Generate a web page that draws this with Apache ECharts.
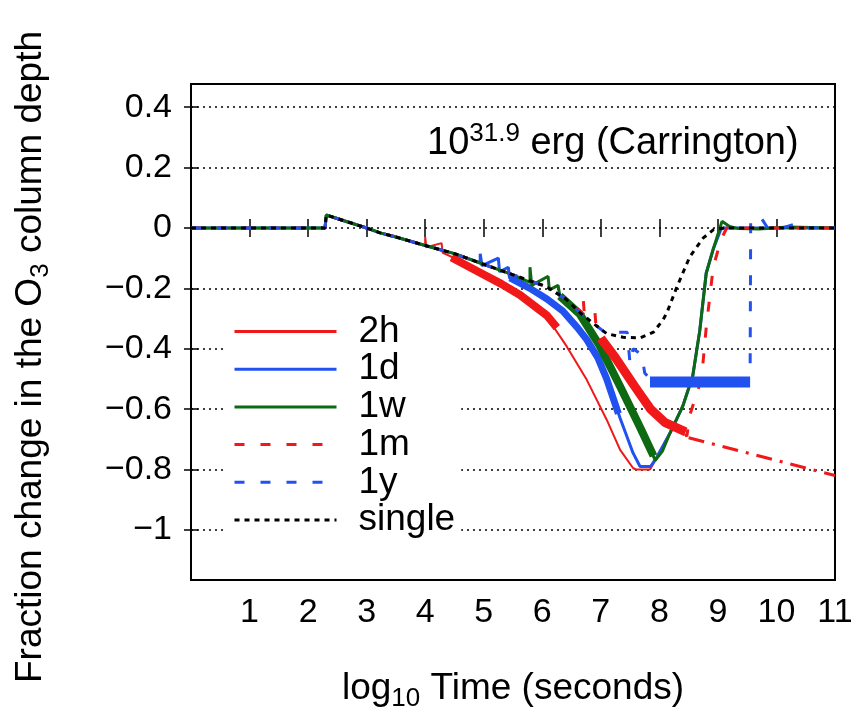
<!DOCTYPE html>
<html>
<head>
<meta charset="utf-8">
<script src="https://cdn.jsdelivr.net/npm/echarts@6/dist/echarts.min.js"></script>
<style>
html,body{margin:0;padding:0;background:#fff;}
#chart{width:851px;height:709px;}
</style>
</head>
<body>
<div id="chart"></div>
<script>
// ---------- data ----------
const legendNames = ['2h', '1d', '1w', '1m', '1y', 'single'];
const xTicks = [0, 1, 2, 3, 4, 5, 6, 7, 8, 9, 10, 11];
const yTicks = [-1, -0.8, -0.6, -0.4, -0.2, 0, 0.2, 0.4];

// shared early part (all runs identical before the repeated flares)
const early = [[0, 0], [2.29, 0], [2.31, 0.043], [2.6, 0.025], [3.0, 0.0], [3.23, -0.016], [3.5, -0.03], [4.0, -0.058]];

const single = [[4.5, -0.085], [4.94, -0.116], [5.5, -0.155], [6.08, -0.195], [6.4, -0.235], [6.64, -0.28], [6.9, -0.32], [7.1, -0.35], [7.38, -0.362], [7.67, -0.364], [7.9, -0.345], [8.06, -0.305], [8.13, -0.28], [8.3, -0.195], [8.52, -0.095], [8.75, -0.033], [8.92, -0.006], [9.1, 0], [11, 0]];

const run2h = [[4.0, -0.03], [4.02, -0.064], [4.28, -0.05], [4.3, -0.082], [4.5, -0.1], [4.94, -0.148], [5.3, -0.185], [5.62, -0.222], [6.08, -0.295], [6.42, -0.393], [6.76, -0.503], [7.1, -0.635], [7.33, -0.735], [7.55, -0.795], [7.6, -0.8], [7.84, -0.8], [7.96, -0.76], [8.18, -0.68], [8.4, -0.59], [8.57, -0.49], [8.69, -0.34], [8.8, -0.15], [8.92, -0.07], [9.05, 0], [11, 0]];
const band2h = [[4.45, -0.098], [4.94, -0.148], [5.3, -0.185], [5.62, -0.222], [6.08, -0.29], [6.25, -0.33]];

const run1d = [[4.5, -0.085], [4.94, -0.116], [4.94, -0.085], [4.97, -0.125], [5.25, -0.1], [5.27, -0.145], [5.42, -0.13], [5.44, -0.165], [5.79, -0.2], [6.08, -0.235], [6.35, -0.275], [6.6, -0.33], [6.76, -0.37], [6.95, -0.43], [7.1, -0.5], [7.33, -0.63], [7.55, -0.745], [7.67, -0.79], [7.85, -0.79], [7.96, -0.758], [8.18, -0.68], [8.4, -0.59], [8.57, -0.49], [8.69, -0.34], [8.8, -0.15], [8.92, -0.07], [9.05, -0.005], [9.1, 0], [11, 0]];
const band1d = [[5.45, -0.165], [5.79, -0.2], [6.08, -0.235], [6.35, -0.275], [6.6, -0.33], [6.76, -0.37], [6.95, -0.43], [7.1, -0.5], [7.3, -0.615]];

const run1w = [[4.5, -0.085], [4.94, -0.116], [5.5, -0.155], [5.79, -0.18], [5.79, -0.13], [5.82, -0.19], [6.1, -0.16], [6.12, -0.205], [6.27, -0.19], [6.3, -0.225], [6.64, -0.285], [6.98, -0.39], [7.33, -0.525], [7.67, -0.66], [7.93, -0.77], [8.05, -0.74], [8.18, -0.68], [8.4, -0.59], [8.57, -0.49], [8.69, -0.34], [8.8, -0.15], [8.92, -0.07], [9.07, 0.022], [9.2, 0.005], [9.35, -0.002], [9.7, -0.003], [10.2, 0.003], [11, 0]];
const band1w = [[6.3, -0.225], [6.64, -0.285], [6.98, -0.39], [7.33, -0.525], [7.67, -0.66], [7.9, -0.755]];

const run1m = [[4.5, -0.085], [4.94, -0.116], [5.5, -0.155], [6.08, -0.195], [6.4, -0.235], [6.7, -0.285], [6.7, -0.235], [6.72, -0.29], [6.9, -0.28], [6.92, -0.33], [7.0, -0.365], [7.25, -0.43], [7.58, -0.525], [7.85, -0.6], [8.1, -0.645], [8.4, -0.672], [8.47, -0.69], [8.52, -0.62], [8.72, -0.5], [8.8, -0.33], [8.92, -0.13], [9.05, -0.04], [9.15, 0], [11, 0]];
const band1m = [[7.0, -0.365], [7.25, -0.43], [7.58, -0.525], [7.85, -0.6], [8.1, -0.645], [8.45, -0.675]];
const tail1m = [[8.5, -0.695], [11, -0.82]];

const run1y = [[4.5, -0.085], [4.94, -0.116], [5.5, -0.155], [6.08, -0.195], [6.4, -0.235], [6.64, -0.28], [6.9, -0.32], [7.1, -0.35], [7.3, -0.345], [7.45, -0.345], [7.5, -0.45], [7.55, -0.4], [7.7, -0.42], [7.75, -0.48], [7.84, -0.5], [9.55, -0.5], [9.56, 0.03], [9.75, 0.03], [9.85, 0.0], [10.1, 0], [10.3, 0.012], [10.45, 0], [11, 0]];
const band1y = [[7.84, -0.51], [9.55, -0.51]];

// ---------- styling ----------
const FONT = 'Liberation Sans';
const RED = '#f01818', BLUE = '#2152f0', GREEN = '#0d6a12', BLACK = '#000';

function yFmt(v) {
  const r = Math.round(v * 10) / 10;
  if (r === 0) return '0';
  return (r < 0 ? '\u2212' : '') + String(Math.abs(r));
}

function lineSeries(name, data, color, width, type, z) {
  return {
    name: name, type: 'line', data: data, showSymbol: false, symbol: 'none',
    lineStyle: { color: color, width: width, type: type || 'solid' },
    itemStyle: { color: color },
    z: z, animation: false, clip: true
  };
}

const chart = echarts.init(document.getElementById('chart'), null, { renderer: 'canvas' });
const common = early;
const option = {
  backgroundColor: '#fff',
  animation: false,
  textStyle: { fontFamily: FONT, color: '#000' },
  grid: { left: 191, right: 16, top: 84, bottom: 129, show: true, borderColor: '#000', borderWidth: 2, containLabel: false, outerBoundsMode: 'none' },
  title: {
    text: '10{sup|31.9} erg (Carrington)',
    left: 422, top: 116,
    textStyle: {
      fontFamily: FONT, fontSize: 38, fontWeight: 'normal', color: '#000', lineHeight: 46,
      rich: { sup: { fontFamily: FONT, fontSize: 26, color: '#000', verticalAlign: 'top', lineHeight: 26 } }
    }
  },
  legend: {
    data: legendNames,
    orient: 'vertical', left: 227, top: 305,
    padding: [8, 6, 8, 6],
    backgroundColor: '#fff',
    itemWidth: 102, itemHeight: 14, itemGap: 0.7,
    itemStyle: { opacity: 0 },
    lineStyle: { width: 3 },
    textStyle: { fontFamily: FONT, fontSize: 37, color: '#000', padding: [0, 0, 0, 17] },
    z: 10
  },
  xAxis: [{
    type: 'value', min: 0, max: 11, interval: 1, position: 'bottom',
    name: 'log{sub|10} Time (seconds)', nameLocation: 'middle', nameGap: 86,
    nameTextStyle: {
      fontFamily: FONT, fontSize: 37, color: '#000', lineHeight: 46,
      rich: { sub: { fontFamily: FONT, fontSize: 26, color: '#000', verticalAlign: 'bottom', lineHeight: 26 } }
    },
    axisLine: { show: false },
    axisTick: { show: true, inside: true, length: 9, lineStyle: { color: '#000', width: 1.5 } },
    axisLabel: { fontFamily: FONT, fontSize: 34, color: '#000', margin: 16, formatter: function (v) { return v === 0 ? '' : String(v); } },
    splitLine: { show: false }
  }, {
    type: 'value', min: 0, max: 11, interval: 1, position: 'top',
    axisLine: { show: false },
    axisTick: { show: true, inside: true, length: 9, lineStyle: { color: '#000', width: 1.5 } },
    axisLabel: { show: false }, splitLine: { show: false }
  }],
  yAxis: [{
    type: 'value', min: -1.166, max: 0.477, position: 'left',
    axisLine: { show: false },
    axisTick: { show: true, inside: true, length: 7, customValues: yTicks, lineStyle: { color: '#000', width: 1.5 } },
    axisLabel: { fontFamily: FONT, fontSize: 34, color: '#000', margin: 19, customValues: yTicks, formatter: yFmt },
    splitLine: { show: true, lineStyle: { color: '#000', width: 1.5, type: [2, 4] } }
  }, {
    type: 'value', min: -1.166, max: 0.477, position: 'right',
    axisLine: { show: false },
    axisTick: { show: true, inside: true, length: 7, customValues: yTicks, lineStyle: { color: '#000', width: 1.5 } },
    axisLabel: { show: false, customValues: yTicks }, splitLine: { show: false }
  }],
  graphic: [{
    type: 'text', x: 31, y: 357, rotation: Math.PI / 2,
    style: {
      text: 'Fraction change in the O{s|3} column depth',
      fontFamily: FONT, fontSize: 37, fill: '#000', align: 'center', verticalAlign: 'middle', lineHeight: 46,
      rich: { s: { fontFamily: FONT, fontSize: 26, fill: '#000', verticalAlign: 'bottom', lineHeight: 26 } }
    }
  }],
  series: [
    lineSeries('2h', common.concat(run2h), RED, 2, 'solid', 2),
    lineSeries('2h-band', band2h, RED, 8, 'solid', 2),
    lineSeries('1d', common.concat(run1d), BLUE, 3, 'solid', 3),
    lineSeries('1d-band', band1d, BLUE, 7, 'solid', 3),
    lineSeries('1w', common.concat(run1w), GREEN, 3, 'solid', 4),
    lineSeries('1w-band', band1w, GREEN, 8, 'solid', 4),
    lineSeries('1m', common.concat(run1m), RED, 3, [10, 16], 5),
    lineSeries('1m-band', band1m, RED, 9, 'solid', 5),
    lineSeries('1m-tail', tail1m, RED, 3, [16, 8, 3, 8], 5),
    lineSeries('1y', common.concat(run1y), BLUE, 3, [10, 16], 6),
    lineSeries('1y-band', band1y, BLUE, 11, 'solid', 6),
    lineSeries('single', common.concat(single), BLACK, 3, [5, 5], 7)
  ]
};
chart.setOption(option);
</script>
</body>
</html>
